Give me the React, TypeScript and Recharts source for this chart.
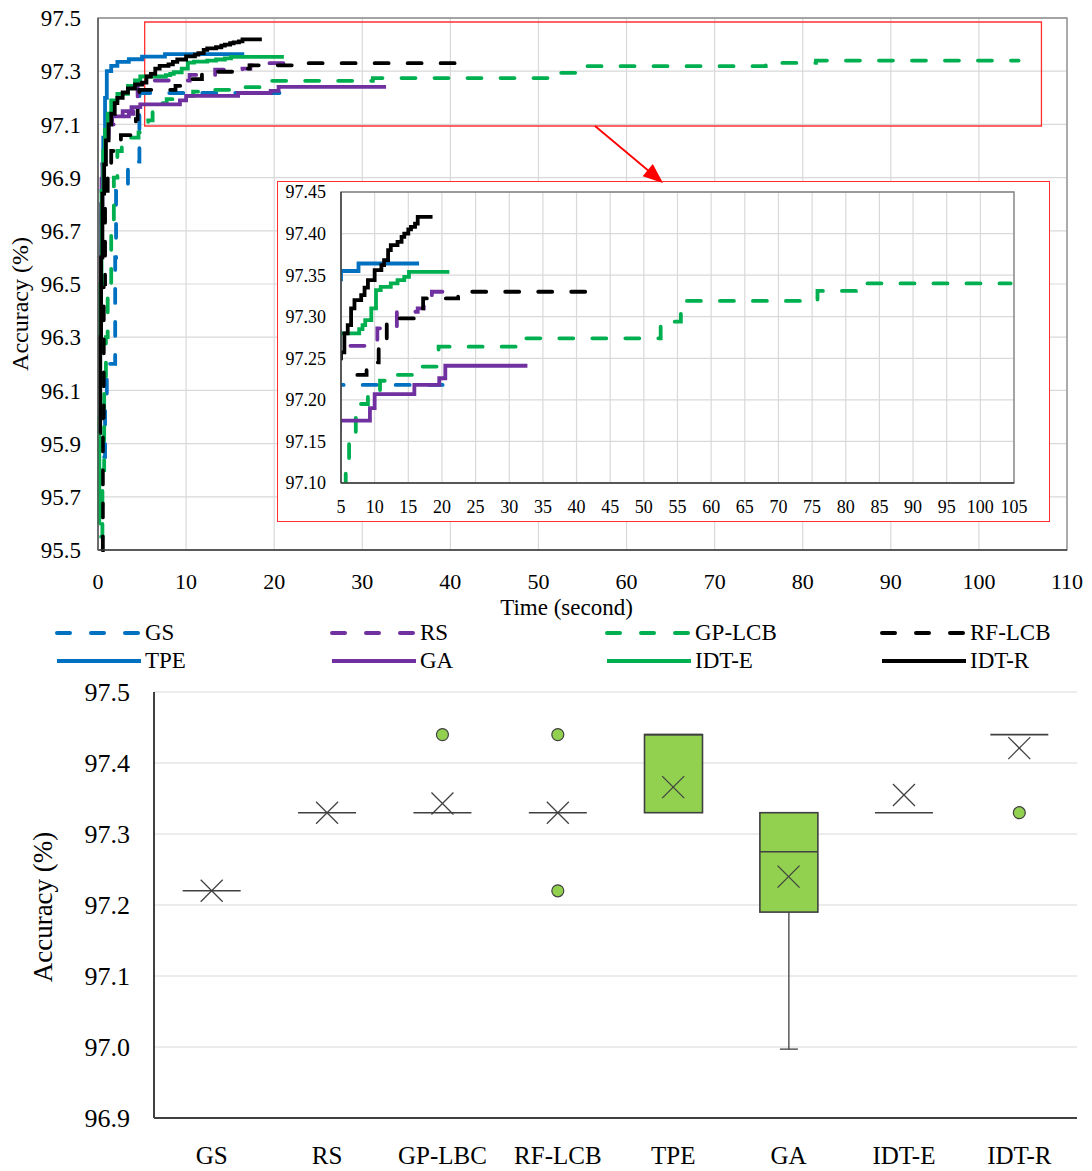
import React from 'react';
import {
  LineChart, Line, XAxis, YAxis, CartesianGrid, ReferenceArea,
  ComposedChart, Bar, Scatter,
} from 'recharts';

const FONT = '"Liberation Serif", "Times New Roman", Times, serif';

// ---------- Convergence curves: [time (s), best accuracy so far (%)] ----------
const gsCurve = [
  [0.7, 95.85], [0.8, 96.05], [1.0, 96.2], [1.95, 96.6], [2.05, 96.85],
  [3.4, 96.93], [3.5, 96.96], [4.7, 97.218], [20.6, 97.218],
];
const rsCurve = [
  [0.3, 96.6], [0.4, 96.95], [0.8, 97.05], [1.2, 97.1], [2.0, 97.13],
  [3.5, 97.14], [4.0, 97.2], [4.5, 97.265], [10.4, 97.286], [13.3, 97.306],
  [16.4, 97.31], [17.3, 97.322], [18.5, 97.33], [21.3, 97.33],
];
const gpLcbCurve = [
  [0.35, 95.55], [0.5, 95.8], [0.7, 96.1], [0.9, 96.3], [1.1, 96.45],
  [1.5, 96.7], [1.8, 96.9], [2.2, 97.0], [2.7, 97.03], [3.6, 97.05],
  [4.6, 97.07], [5.4, 97.09], [5.7, 97.115], [6.2, 97.155], [7.2, 97.18],
  [7.8, 97.195], [9.0, 97.207], [10.8, 97.223], [12.8, 97.23], [16.3, 97.24],
  [19.5, 97.264], [31.2, 97.274], [52.5, 97.294], [55.5, 97.319],
  [75.8, 97.331], [81.5, 97.34], [104.5, 97.34],
];
const rfLcbCurve = [
  [0.5, 95.5], [0.55, 96.0], [0.65, 96.5], [0.8, 96.85], [1.1, 96.95],
  [1.5, 97.0], [2.6, 97.06], [3.7, 97.1], [4.3, 97.12], [4.5, 97.2],
  [4.7, 97.23], [8.8, 97.245], [10.6, 97.27], [11.8, 97.298], [16.3, 97.31],
  [17.2, 97.322], [22.4, 97.33], [41.6, 97.33],
];
const tpeCurve = [
  [0.3, 96.95], [0.6, 97.05], [0.8, 97.2], [1.0, 97.3], [1.5, 97.32],
  [2.2, 97.335], [3.5, 97.345], [5.0, 97.355], [7.6, 97.364], [16.6, 97.364],
];
const gaCurve = [
  [0.25, 96.45], [0.35, 96.8], [0.5, 96.95], [0.8, 97.05], [1.2, 97.1],
  [1.6, 97.13], [2.8, 97.15], [3.8, 97.165], [4.8, 97.175], [9.3, 97.19],
  [10.0, 97.207], [15.9, 97.218], [19.6, 97.226], [20.5, 97.241], [32.7, 97.241],
];
const idtECurve = [
  [0.05, 95.6], [0.15, 96.0], [0.25, 96.5], [0.4, 96.85], [0.6, 97.0],
  [0.8, 97.08], [1.1, 97.14], [1.5, 97.19], [2.2, 97.215], [3.4, 97.245],
  [4.2, 97.265], [4.8, 97.28], [7.7, 97.285], [8.2, 97.29], [8.6, 97.296],
  [9.5, 97.31], [10.2, 97.332], [10.9, 97.336], [12.4, 97.34], [13.4, 97.344],
  [14.4, 97.348], [15.1, 97.354], [21.1, 97.354],
];
const idtRCurve = [
  [0.15, 95.94], [0.25, 96.3], [0.35, 96.6], [0.5, 96.84], [0.7, 96.95],
  [0.9, 97.04], [1.2, 97.1], [1.5, 97.14], [1.9, 97.18], [2.2, 97.2],
  [2.8, 97.22], [3.4, 97.235], [4.2, 97.25], [5.0, 97.257], [5.5, 97.28],
  [6.0, 97.29], [6.5, 97.31], [7.0, 97.32], [8.0, 97.326], [8.5, 97.335],
  [9.0, 97.344], [10.0, 97.356], [11.0, 97.362], [11.4, 97.368], [12.0, 97.38],
  [12.4, 97.386], [13.4, 97.39], [14.0, 97.396], [14.4, 97.4], [15.0, 97.405],
  [15.4, 97.408], [16.0, 97.412], [16.4, 97.42], [18.6, 97.42],
];

const seriesNames = ['GS', 'RS', 'GP-LCB', 'RF-LCB', 'TPE', 'GA', 'IDT-E', 'IDT-R'];
const seriesCurves = [gsCurve, rsCurve, gpLcbCurve, rfLcbCurve, tpeCurve, gaCurve, idtECurve, idtRCurve];
const seriesColors = ['#0070C0', '#7030A0', '#00B050', '#000000', '#0070C0', '#7030A0', '#00B050', '#000000'];
const seriesDashed = [true, true, true, true, false, false, false, false];

const SERIES = seriesNames.map((name, i) => ({
  name,
  color: seriesColors[i],
  dashed: seriesDashed[i],
  data: seriesCurves[i].map(([t, v]) => ({ t, v })),
}));

// ---------- axis ticks ----------
const mainXTicks = [0, 10, 20, 30, 40, 50, 60, 70, 80, 90, 100, 110];
const mainYTicks = [95.5, 95.7, 95.9, 96.1, 96.3, 96.5, 96.7, 96.9, 97.1, 97.3, 97.5];
const insetXTicks = [5, 10, 15, 20, 25, 30, 35, 40, 45, 50, 55, 60, 65, 70, 75, 80, 85, 90, 95, 100, 105];
const insetYTicks = [97.1, 97.15, 97.2, 97.25, 97.3, 97.35, 97.4, 97.45];
const boxYTicks = [96.9, 97.0, 97.1, 97.2, 97.3, 97.4, 97.5];

// zoom window shown in the inset (and outlined in the main chart)
const zoomX = [5.3, 107.1];
const zoomY = [97.094, 97.485];

// ---------- Box-plot statistics ----------
const boxCategories = ['GS', 'RS', 'GP-LBC', 'RF-LCB', 'TPE', 'GA', 'IDT-E', 'IDT-R'];
const boxLow = [97.22, 97.33, 97.33, 97.33, 97.33, 96.997, 97.33, 97.44];
const boxQ1 = [97.22, 97.33, 97.33, 97.33, 97.33, 97.19, 97.33, 97.44];
const boxMedian = [97.22, 97.33, 97.33, 97.33, 97.44, 97.275, 97.33, 97.44];
const boxQ3 = [97.22, 97.33, 97.33, 97.33, 97.44, 97.33, 97.33, 97.44];
const boxHigh = [97.22, 97.33, 97.33, 97.33, 97.44, 97.33, 97.33, 97.44];
const boxMean = [97.22, 97.33, 97.343, 97.33, 97.366, 97.24, 97.355, 97.421];
const boxOutlierA = [null, null, 97.44, 97.44, null, null, null, 97.33];
const boxOutlierB = [null, null, null, 97.22, null, null, null, null];

const boxRows = boxCategories.map((name, i) => ({
  name,
  low: boxLow[i], q1: boxQ1[i], median: boxMedian[i], q3: boxQ3[i], high: boxHigh[i],
  mean: boxMean[i], out1: boxOutlierA[i], out2: boxOutlierB[i],
}));

const BOX_FILL = '#92D050';
const EDGE = '#404040';
const BOX_W = 58;
const DASH = '14 19';

const ok = (...v: any[]) => v.every((n) => n !== null && n !== undefined && isFinite(n));

const BoxShape = (p: any) => {
  const { x, y, width, height } = p;
  if (!ok(x, y, width, height)) return <g />;
  const top = Math.min(y, y + height);
  const h = Math.abs(height);
  if (h < 0.5) return <g />;
  return <rect x={x} y={top} width={width} height={h} fill={BOX_FILL} stroke={EDGE} strokeWidth={1.6} />;
};
const LowerWhisker = (p: any) => {
  const { x, y, width, height } = p;
  if (!ok(x, y, width, height)) return <g />;
  const top = Math.min(y, y + height);
  const bot = Math.max(y, y + height);
  if (bot - top < 0.5) return <g />;
  const cx = x + width / 2;
  return (
    <g>
      <line x1={cx} x2={cx} y1={top} y2={bot} stroke={EDGE} strokeWidth={1.3} />
      <line x1={cx - 9} x2={cx + 9} y1={bot} y2={bot} stroke={EDGE} strokeWidth={1.3} />
    </g>
  );
};
const UpperWhisker = (p: any) => {
  const { x, y, width, height } = p;
  if (!ok(x, y, width, height)) return <g />;
  const top = Math.min(y, y + height);
  const bot = Math.max(y, y + height);
  if (bot - top < 0.5) return <g />;
  const cx = x + width / 2;
  return (
    <g>
      <line x1={cx} x2={cx} y1={top} y2={bot} stroke={EDGE} strokeWidth={1.3} />
      <line x1={cx - 9} x2={cx + 9} y1={top} y2={top} stroke={EDGE} strokeWidth={1.3} />
    </g>
  );
};
const MedianMark = (p: any) => {
  const { cx, cy } = p;
  if (!ok(cx, cy)) return <g />;
  return <line x1={cx - BOX_W / 2} x2={cx + BOX_W / 2} y1={cy} y2={cy} stroke={EDGE} strokeWidth={1.6} />;
};
const MeanMark = (p: any) => {
  const { cx, cy } = p;
  if (!ok(cx, cy)) return <g />;
  const r = 11;
  return (
    <g stroke={EDGE} strokeWidth={1.3}>
      <line x1={cx - r} y1={cy - r} x2={cx + r} y2={cy + r} />
      <line x1={cx - r} y1={cy + r} x2={cx + r} y2={cy - r} />
    </g>
  );
};
const OutlierMark = (p: any) => {
  const { cx, cy, payload, dataKey } = p;
  if (!ok(cx, cy)) return <g />;
  if (payload && dataKey && (payload[dataKey] === null || payload[dataKey] === undefined)) return <g />;
  return <circle cx={cx} cy={cy} r={6} fill={BOX_FILL} stroke={EDGE} strokeWidth={1.2} />;
};

const vTitle = (text: string, dx: number, dy: number, size: number) => (p: any) => {
  const vb = p.viewBox || { x: 0, y: 0, width: 0, height: 0 };
  const x = vb.x + dx;
  const y = vb.y + vb.height / 2 + dy;
  return (
    <text x={x} y={y} transform={`rotate(-90 ${x} ${y})`} textAnchor="middle"
      dominantBaseline="central" fontSize={size} fontFamily={FONT} fill="#000">{text}</text>
  );
};
const hTitle = (text: string, dx: number, dy: number, size: number) => (p: any) => {
  const vb = p.viewBox || { x: 0, y: 0, width: 0, height: 0 };
  const x = vb.x + vb.width / 2 + dx;
  const y = vb.y + dy;
  return (
    <text x={x} y={y} textAnchor="middle" dominantBaseline="central"
      fontSize={size} fontFamily={FONT} fill="#000">{text}</text>
  );
};

const renderLines = () =>
  SERIES.map((s) => (
    <Line
      key={s.name}
      data={s.data}
      dataKey="v"
      name={s.name}
      type="stepAfter"
      stroke={s.color}
      strokeWidth={3.8}
      strokeDasharray={s.dashed ? DASH : undefined}
      strokeLinecap={s.dashed ? 'round' : 'butt'}
      dot={false}
      activeDot={false}
      isAnimationActive={false}
    />
  ));

const MainChart = () => (
  <LineChart width={1092} height={625} margin={{ top: 18, right: 25, left: 0, bottom: 35 }}>
    <CartesianGrid stroke="#d9d9d9" strokeWidth={1.2} />
    <XAxis
      type="number" dataKey="t" domain={[0, 110]} ticks={mainXTicks}
      tickLine={false} tickSize={0} tickMargin={23} height={40}
      axisLine={{ stroke: EDGE, strokeWidth: 1.5 }}
      tick={{ fill: '#000', fontSize: 22, fontFamily: FONT }}
      label={{ content: hTitle('Time (second)', -16, 57, 23) }}
    />
    <YAxis
      type="number" domain={[95.5, 97.5]} ticks={mainYTicks} width={98}
      tickFormatter={(v: number) => v.toFixed(1)}
      tickLine={false} tickSize={0} tickMargin={17}
      axisLine={{ stroke: '#595959', strokeWidth: 1.5 }}
      tick={{ fill: '#000', fontSize: 23, fontFamily: FONT }}
      label={{ content: vTitle('Accuracy (%)', 20, 20, 24) }}
    />
    <ReferenceArea x1={0} x2={110} y1={95.5} y2={97.5} fill="none" stroke="#8c8c8c" strokeWidth={1.3} ifOverflow="visible" />
    {renderLines()}
    <ReferenceArea x1={zoomX[0]} x2={zoomX[1]} y1={zoomY[0]} y2={zoomY[1]} fill="none" stroke="#ff3030" strokeWidth={1.3} ifOverflow="visible" />
  </LineChart>
);

const InsetChart = () => (
  <LineChart width={771} height={339} margin={{ top: 10, right: 35, left: 0, bottom: 8 }}>
    <CartesianGrid stroke="#d9d9d9" strokeWidth={1.2} />
    <XAxis
      type="number" dataKey="t" domain={[5, 105]} ticks={insetXTicks} allowDataOverflow
      tickLine={false} tickSize={0} tickMargin={17} height={30} interval={0}
      axisLine={{ stroke: EDGE, strokeWidth: 1.5 }}
      tick={{ fill: '#000', fontSize: 18, fontFamily: FONT }}
    />
    <YAxis
      type="number" domain={[97.1, 97.45]} ticks={insetYTicks} allowDataOverflow width={63}
      tickFormatter={(v: number) => v.toFixed(2)} interval={0}
      tickLine={false} tickSize={0} tickMargin={15}
      axisLine={{ stroke: EDGE, strokeWidth: 1.5 }}
      tick={{ fill: '#000', fontSize: 18, fontFamily: FONT }}
    />
    <ReferenceArea x1={5} x2={105} y1={97.1} y2={97.45} fill="none" stroke="#7f7f7f" strokeWidth={1.3} ifOverflow="visible" />
    {renderLines()}
  </LineChart>
);

const Legend8 = () => (
  <>
    {SERIES.map((s, i) => {
      const col = i % 4;
      const row = Math.floor(i / 4);
      return (
        <div key={s.name} style={{
          position: 'absolute', left: 55 + col * 275, top: (row === 0 ? 633 : 661) - 14,
          height: 28, display: 'flex', alignItems: 'center', whiteSpace: 'nowrap',
        }}>
          <svg width={90} height={10} style={{ display: 'block' }}>
            <line x1={2} x2={86} y1={5} y2={5} stroke={s.color} strokeWidth={4}
              strokeDasharray={s.dashed ? '13 21' : undefined}
              strokeLinecap={s.dashed ? 'round' : 'butt'} />
          </svg>
          <span style={{ fontFamily: FONT, fontSize: 23, color: '#000', lineHeight: '28px' }}>{s.name}</span>
        </div>
      );
    })}
  </>
);

const BoxChart = () => (
  <ComposedChart width={1092} height={501} data={boxRows} margin={{ top: 22, right: 15, left: 0, bottom: 8 }}>
    <CartesianGrid vertical={false} stroke="#d9d9d9" strokeWidth={1.2} />
    <XAxis
      dataKey="name" type="category" allowDuplicatedCategory={false} interval={0}
      tickLine={false} tickSize={0} tickMargin={28} height={45}
      axisLine={{ stroke: EDGE, strokeWidth: 2 }}
      tick={{ fill: '#000', fontSize: 25, fontFamily: FONT }}
    />
    <XAxis xAxisId="lw" dataKey="name" type="category" allowDuplicatedCategory={false} hide />
    <XAxis xAxisId="uw" dataKey="name" type="category" allowDuplicatedCategory={false} hide />
    <YAxis
      type="number" domain={[96.9, 97.5]} ticks={boxYTicks} width={154}
      tickFormatter={(v: number) => v.toFixed(1)} interval={0}
      tickLine={false} tickSize={0} tickMargin={24}
      axisLine={{ stroke: EDGE, strokeWidth: 2 }}
      tick={{ fill: '#000', fontSize: 26, fontFamily: FONT }}
      label={{ content: vTitle('Accuracy (%)', 43, 2, 27) }}
    />
    <Bar xAxisId="lw" dataKey={(d: any) => [d.low, d.q1]} barSize={BOX_W} shape={LowerWhisker} isAnimationActive={false} />
    <Bar xAxisId="uw" dataKey={(d: any) => [d.q3, d.high]} barSize={BOX_W} shape={UpperWhisker} isAnimationActive={false} />
    <Bar dataKey={(d: any) => [d.q1, d.q3]} barSize={BOX_W} shape={BoxShape} isAnimationActive={false} />
    <Scatter dataKey="median" shape={MedianMark} isAnimationActive={false} />
    <Scatter dataKey="mean" shape={MeanMark} isAnimationActive={false} />
    <Scatter dataKey="out1" shape={OutlierMark} isAnimationActive={false} />
    <Scatter dataKey="out2" shape={OutlierMark} isAnimationActive={false} />
  </ComposedChart>
);

export default function App() {
  return (
    <div style={{ position: 'absolute', left: 0, top: 0, width: 1092, height: 1171, background: '#fff', fontFamily: FONT, overflow: 'hidden' }}>
      <style>{`.recharts-wrapper text, .recharts-surface text { font-family: "Liberation Serif", "Times New Roman", Times, serif !important; }`}</style>
      <div style={{ position: 'absolute', left: 0, top: 0 }}>
        <MainChart />
      </div>
      <div style={{ position: 'absolute', left: 277, top: 181, width: 771, height: 339, border: '1.3px solid #ff3030', background: '#fff' }}>
        <InsetChart />
      </div>
      <svg width={1092} height={260} style={{ position: 'absolute', left: 0, top: 0, pointerEvents: 'none' }}>
        <line x1={595} y1={126} x2={650} y2={172} stroke="#ff0000" strokeWidth={1.8} />
        <polygon points="663,183 642.6,176.3 652.8,164.1" fill="#ff0000" />
      </svg>
      <Legend8 />
      <div style={{ position: 'absolute', left: 0, top: 670 }}>
        <BoxChart />
      </div>
    </div>
  );
}
